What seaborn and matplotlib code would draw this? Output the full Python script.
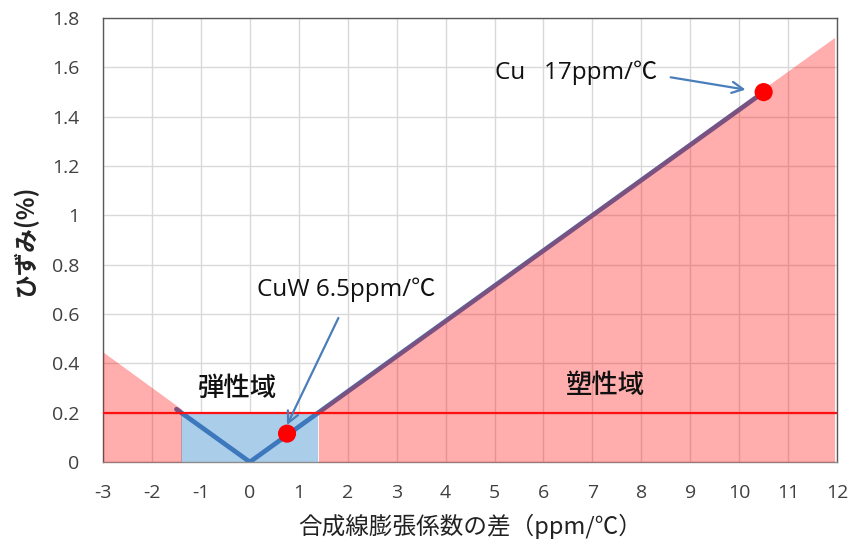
import matplotlib
matplotlib.use("Agg")
import matplotlib.pyplot as plt
import seaborn as sns
import pandas as pd

# data
v_x = [-1.5, 0.0, 10.5]
v_y = [0.214, 0.0, 1.5]
plastic_left_x = [-3.0, -1.4]
plastic_left_y = [0.446, 0.215]
plastic_right_x = [1.4, 11.95]
plastic_right_y = [0.212, 1.722]
elastic_x = [-1.4, 1.4]
elastic_limit = 0.2
pt_x = [0.76, 10.5]
pt_y = [0.115, 1.5]
pt_labels = ["CuW 6.5ppm/\u2103", "Cu   17ppm/\u2103"]
x_ticks = list(range(-3, 13))
y_ticks = [0, 0.2, 0.4, 0.6, 0.8, 1.0, 1.2, 1.4, 1.6, 1.8]
y_tick_labels = ["0", "0.2", "0.4", "0.6", "0.8", "1", "1.2", "1.4", "1.6", "1.8"]

sns.set_theme(style="whitegrid")
plt.rcParams['font.family'] = ['Open Sans', 'Noto Sans CJK JP', 'DejaVu Sans']
jp = ['Noto Sans CJK JP', 'DejaVu Sans']

fig = plt.figure(figsize=(8.53, 5.49), dpi=100)
ax = fig.add_axes([0.1208, 0.1585, 0.8605, 0.8085])

ax.grid(True, color="#d9d9d9", linewidth=1.0)
ax.set_axisbelow(True)

# elastic region
ax.fill_between(elastic_x, [0, 0], [elastic_limit, elastic_limit], color="#aacdea", zorder=1, linewidth=0)

# V line
df_v = pd.DataFrame({"x": v_x, "y": v_y})
sns.lineplot(data=df_v, x="x", y="y", ax=ax, color="#3d78bd", linewidth=3.4, sort=False)
for ln in ax.lines:
    ln.set_zorder(2)

# plastic regions (semi-transparent red on top)
ax.fill_between(plastic_left_x, [0, 0], plastic_left_y, color="#ff0000", alpha=0.32, zorder=3, linewidth=0)
ax.fill_between(plastic_right_x, [0, 0], plastic_right_y, color="#ff0000", alpha=0.32, zorder=3, linewidth=0)

# elastic limit
ax.axhline(elastic_limit, color="#ff1010", linewidth=1.6, zorder=4)

# points
df_p = pd.DataFrame({"x": pt_x, "y": pt_y})
sns.scatterplot(data=df_p, x="x", y="y", ax=ax, color="#ff0000", s=170, edgecolor="none", zorder=5)

# annotations
arrow_kw = dict(arrowstyle="->", color="#4a7ebb", lw=1.6, shrinkA=0, shrinkB=0, mutation_scale=20)
ax.annotate("", xy=(0.76, 0.15), xytext=(1.81, 0.584), arrowprops=arrow_kw, zorder=6)
ax.annotate("", xy=(10.13, 1.51), xytext=(8.6, 1.56), arrowprops=arrow_kw, zorder=6)
ax.text(1.97, 0.697, pt_labels[0], fontsize=17.5, ha="center", va="center", zorder=6, color="#111111")
ax.text(6.67, 1.577, pt_labels[1], fontsize=17.5, ha="center", va="center", zorder=6, color="#111111")

ax.text(-0.26, 0.30, "弾性域", fontsize=19, ha="center", va="center", family=jp, fontweight="medium", zorder=6, color="#111111")
ax.text(7.27, 0.312, "塑性域", fontsize=19, ha="center", va="center", family=jp, fontweight="medium", zorder=6, color="#111111")

ax.set_xlim(-3, 12)
ax.set_ylim(0, 1.8)
ax.set_xticks(x_ticks)
ax.set_xticklabels([str(t) for t in x_ticks])
ax.set_yticks(y_ticks)
ax.set_yticklabels(y_tick_labels)
ax.tick_params(axis="both", length=0, labelsize=14, colors="#404040")
ax.tick_params(axis="x", pad=16)
ax.tick_params(axis="y", pad=17)

ax.set_xlabel("合成線膨張係数の差（ppm/℃）", fontsize=17, family=jp, labelpad=8, color="#222222")
ax.set_ylabel("ひずみ(%)", fontsize=17, family=jp, fontweight="bold", labelpad=10, color="#222222")

for side in ["left", "right", "top", "bottom"]:
    ax.spines[side].set_visible(True)
    ax.spines[side].set_color("#595959")
    ax.spines[side].set_linewidth(1.0)
ax.spines["bottom"].set_color("#8c8c8c")

fig.savefig("out.png", dpi=100)
